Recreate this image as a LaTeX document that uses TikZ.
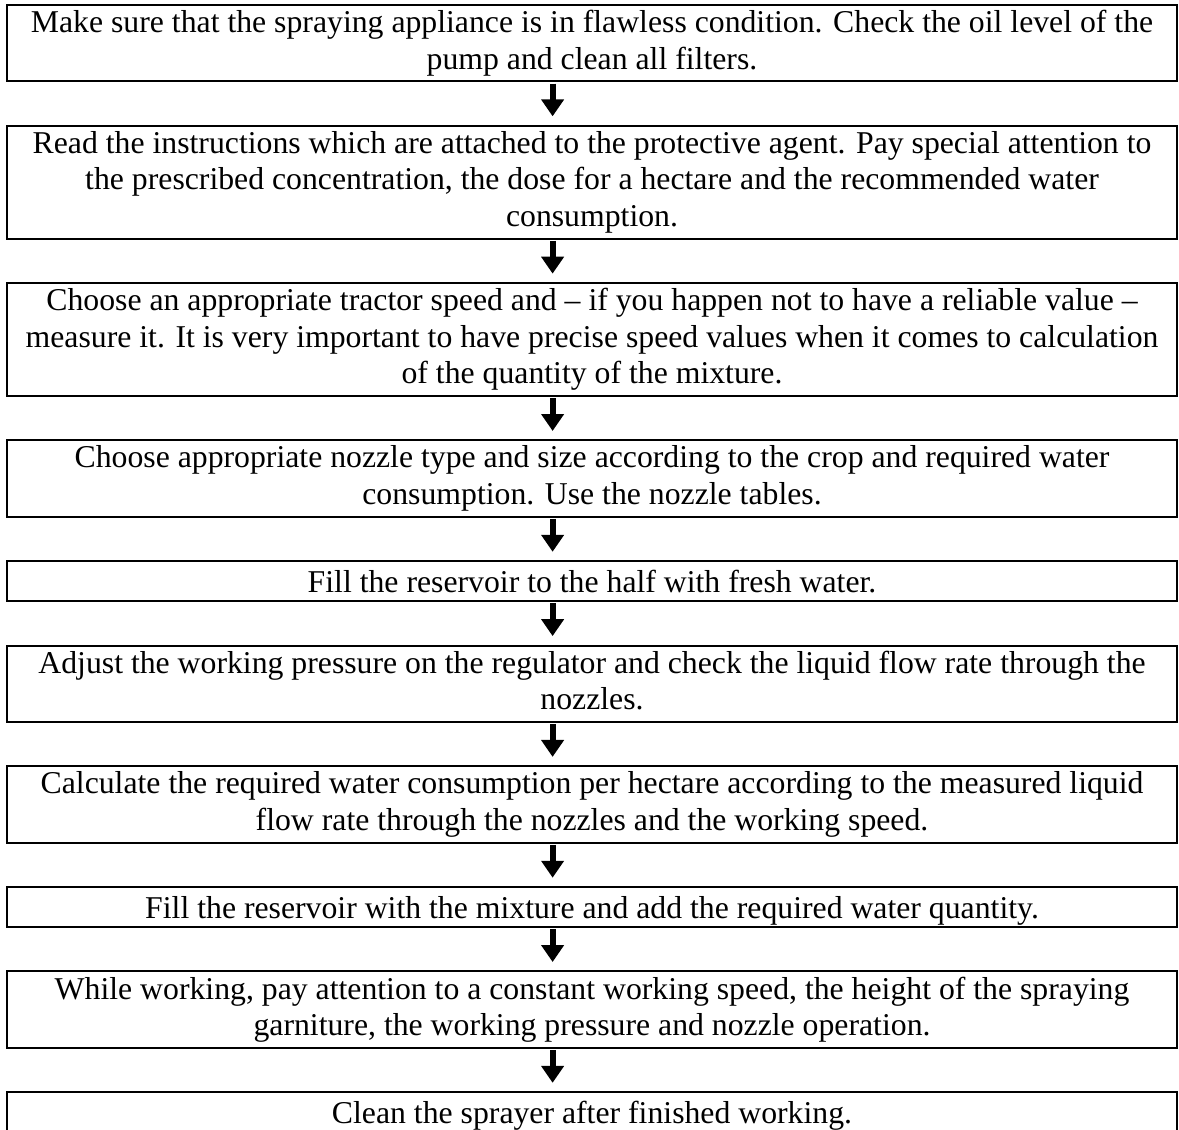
\documentclass[tikz,border=0pt]{standalone}
\usepackage{fontspec}
\setmainfont{Liberation Serif}
\usepackage{tikz}
\usetikzlibrary{arrows.meta,positioning}

\begin{document}
\begin{tikzpicture}[font=\fontsize{12pt}{13.8pt}\selectfont,
node distance=16pt,
stepbox/.style={draw,line width=0.75pt,minimum width=442.3pt,minimum height={15.12pt+13.8pt*(#1-1)},
  inner xsep=2pt,inner ysep=0.81pt,align=center,
  execute at begin node={\rule{0pt}{10.9pt}},execute at end node={\rule[-2.6pt]{0pt}{2.6pt}}},
stepbox/.default=1,
arr/.style={-{Triangle[width=8.3pt,length=6.4pt]},line width=2.3pt,shorten <=0.4pt,shorten >=3.2pt}]
\useasboundingbox (0,0) rectangle (445.7pt,-426.8pt);
\node[stepbox=2,anchor=north] (check) at (223.8pt,-1.5pt) {Make sure that the spraying appliance is in flawless condition. Check the oil level of the\\pump and clean all filters.};
\node[stepbox=3,below=of check] (read) {Read the instructions which are attached to the protective agent. Pay special attention to\\the prescribed concentration, the dose for a hectare and the recommended water\\consumption.};
\node[stepbox=3,below=of read] (speed) {Choose an appropriate tractor speed and -- if you happen not to have a reliable value --\\measure it. It is very important to have precise speed values when it comes to calculation\\of the quantity of the mixture.};
\node[stepbox=2,below=of speed] (nozzle) {Choose appropriate nozzle type and size according to the crop and required water\\consumption. Use the nozzle tables.};
\node[stepbox,below=of nozzle] (half) {Fill the reservoir to the half with fresh water.};
\node[stepbox=2,below=of half] (press) {Adjust the working pressure on the regulator and check the liquid flow rate through the\\nozzles.};
\node[stepbox=2,below=of press] (calc) {Calculate the required water consumption per hectare according to the measured liquid\\flow rate through the nozzles and the working speed.};
\node[stepbox,below=of calc] (mix) {Fill the reservoir with the mixture and add the required water quantity.};
\node[stepbox=2,below=of mix] (work) {While working, pay attention to a constant working speed, the height of the spraying\\garniture, the working pressure and nozzle operation.};
\node[stepbox,below=of work] (clean) {Clean the sprayer after finished working.};
\draw[arr] ([xshift=-14.9pt]check.south) -- ([xshift=-14.9pt]read.north);
\draw[arr] ([xshift=-14.9pt]read.south) -- ([xshift=-14.9pt]speed.north);
\draw[arr] ([xshift=-14.9pt]speed.south) -- ([xshift=-14.9pt]nozzle.north);
\draw[arr] ([xshift=-14.9pt]nozzle.south) -- ([xshift=-14.9pt]half.north);
\draw[arr] ([xshift=-14.9pt]half.south) -- ([xshift=-14.9pt]press.north);
\draw[arr] ([xshift=-14.9pt]press.south) -- ([xshift=-14.9pt]calc.north);
\draw[arr] ([xshift=-14.9pt]calc.south) -- ([xshift=-14.9pt]mix.north);
\draw[arr] ([xshift=-14.9pt]mix.south) -- ([xshift=-14.9pt]work.north);
\draw[arr] ([xshift=-14.9pt]work.south) -- ([xshift=-14.9pt]clean.north);
\end{tikzpicture}
\end{document}
